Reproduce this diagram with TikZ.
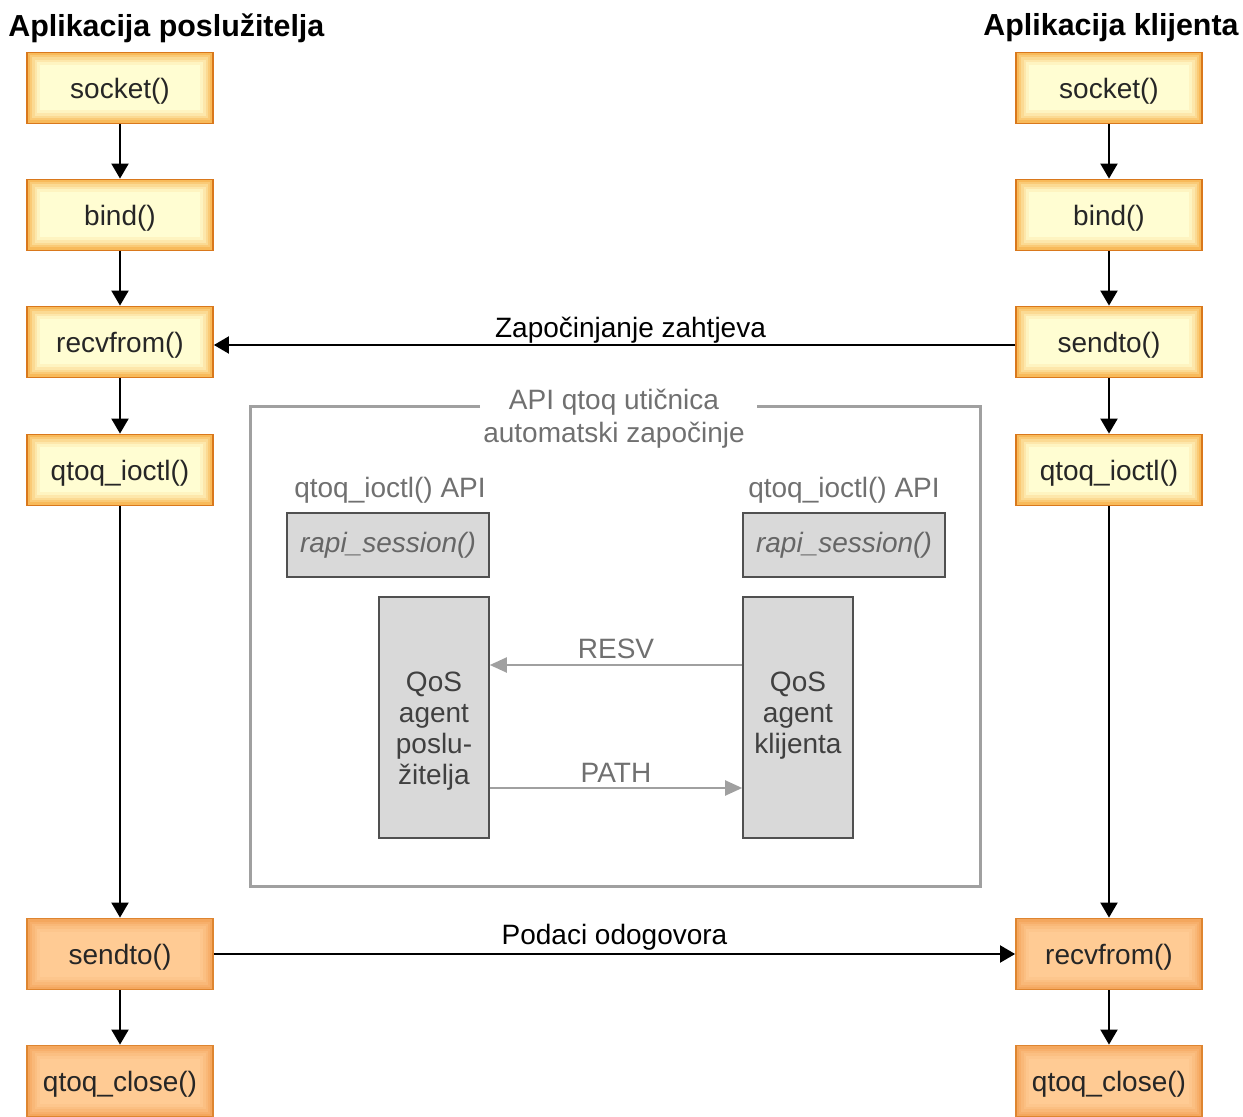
\documentclass[tikz,border=0pt]{standalone}
\usepackage{fontspec}
\setmainfont{Liberation Sans}
\usetikzlibrary{arrows.meta}
\definecolor{ybord}{HTML}{D9781C}
\definecolor{yfill}{HTML}{FFFDD2}
\definecolor{yglow}{HTML}{F7AE45}
\definecolor{ofill}{HTML}{FFCB94}
\definecolor{oglow}{HTML}{F2A055}
\definecolor{obord}{HTML}{DE8530}
\definecolor{gframe}{HTML}{A0A0A0}
\definecolor{gtext}{HTML}{707070}
\definecolor{gfill}{HTML}{D9D9D9}
\definecolor{gbord}{HTML}{505050}
\newcommand\glowlayers[2]{%
   \draw[#1!12!#2, line width=13pt] (path picture bounding box.south west) rectangle (path picture bounding box.north east);
   \draw[#1!28!#2, line width=10pt] (path picture bounding box.south west) rectangle (path picture bounding box.north east);
   \draw[#1!45!#2, line width=7.5pt] (path picture bounding box.south west) rectangle (path picture bounding box.north east);
   \draw[#1!65!#2, line width=5pt] (path picture bounding box.south west) rectangle (path picture bounding box.north east);
   \draw[#1!85!#2, line width=3pt] (path picture bounding box.south west) rectangle (path picture bounding box.north east);}
\tikzset{
 fnbox/.style={minimum width=93pt, minimum height=35.5pt, inner sep=0pt,
   text height=14.5pt, text depth=4pt,
   font=\fontsize{14}{16}\selectfont, text=black!85},
 ybox/.style={fnbox, fill=yfill, draw=ybord, line width=0.9pt, path picture={\glowlayers{yglow}{yfill}}},
 obox/.style={fnbox, fill=ofill, draw=obord, line width=0.9pt, path picture={\glowlayers{oglow}{ofill}}},
 titletxt/.style={inner sep=0pt, font=\fontsize{15.2}{18}\bfseries\selectfont},
 blab/.style={inner sep=0pt, font=\fontsize{14}{16.5}\selectfont, text=black},
 gtxt/.style={inner sep=0pt, font=\fontsize{14}{16.5}\selectfont, text=gtext, align=center},
 rbox/.style={fill=gfill, draw=gbord, line width=0.8pt, minimum width=101pt, minimum height=32pt,
   inner sep=0pt, text height=11.5pt, text depth=4pt, font=\fontsize{14}{16.5}\itshape\selectfont, text=black!60},
 abox/.style={fill=gfill, draw=gbord, line width=0.8pt, minimum width=55pt, minimum height=120.5pt, inner sep=0pt},
 atxt/.style={inner sep=0pt, font=\fontsize{14}{15.5}\selectfont, text=black!75, align=center},
 arr/.style={-{Triangle[length=7.5pt,width=8.5pt]}, line width=1pt, black},
 garr/.style={-{Triangle[length=8.5pt,width=7.5pt]}, line width=1pt, gframe},
 frame/.style={draw=gframe, line width=1.5pt},
}
\begin{document}
\begin{tikzpicture}[x=0.5pt, y=-0.5pt]
\useasboundingbox (0,0) rectangle (1243,1117);

% titles
\node[titletxt, anchor=west] (tl) at (8,28) {Aplikacija poslužitelja};
\node[titletxt, anchor=east] (tr) at (1239,28) {Aplikacija klijenta};

% left column
\node[ybox] (ls) at (120,88) {socket()};
\node[ybox] (lb) at (120,215) {bind()};
\node[ybox] (lr) at (120,342) {recvfrom()};
\node[ybox] (lq) at (120,470) {qtoq\_ioctl()};
\node[obox] (lsd) at (120,954) {sendto()};
\node[obox] (lc) at (120,1081) {qtoq\_close()};

% right column
\node[ybox] (rs) at (1109,88) {socket()};
\node[ybox] (rb) at (1109,215) {bind()};
\node[ybox] (rsd) at (1109,342) {sendto()};
\node[ybox] (rq) at (1109,470) {qtoq\_ioctl()};
\node[obox] (rr) at (1109,954) {recvfrom()};
\node[obox] (rc) at (1109,1081) {qtoq\_close()};

% vertical arrows
\draw[arr] (ls) -- (lb);
\draw[arr] (lb) -- (lr);
\draw[arr] (lr) -- (lq);
\draw[arr] (lq) -- (lsd);
\draw[arr] (lsd) -- (lc);
\draw[arr] (rs) -- (rb);
\draw[arr] (rb) -- (rsd);
\draw[arr] (rsd) -- (rq);
\draw[arr] (rq) -- (rr);
\draw[arr] (rr) -- (rc);

% horizontal arrows
\draw[arr] ([yshift=-1.5pt]rsd.west) -- node[blab, above=0.5pt, pos=0.48] (l1) {Započinjanje zahtjeva} ([yshift=-1.5pt]lr.east);
\draw[arr] (lsd.east) -- node[blab, above=1.5pt, pos=0.5] (l2) {Podaci odogovora} (rr.west);

% grey frame
\draw[frame] (480,407) -- (250,407) -- (250,886) -- (980,886) -- (980,407) -- (757,407);
\node[gtxt] (ft) at (614,419) {API qtoq utičnica\\automatski započinje};

\node[gtxt] (api1) at (390,490) {qtoq\_ioctl() API};
\node[gtxt] (api2) at (844,490) {qtoq\_ioctl() API};
\node[rbox] (rs1) at (388,545) {rapi\_session()};
\node[rbox] (rs2) at (844,545) {rapi\_session()};

\node[abox] (la) at (434,717.5) {};
\node[abox] (ra) at (798,717.5) {};
\node[atxt, anchor=north] (lat) at (434,672) {QoS\\agent\\poslu-\\žitelja};
\node[atxt, anchor=north] (rat) at (798,672) {QoS\\agent\\klijenta};

\draw[garr] ([yshift=26.25pt]ra.west) -- node[gtxt, above=2.5pt] (resv) {RESV} ([yshift=26.25pt]la.east);
\draw[garr] ([yshift=-35.25pt]la.east) -- node[gtxt, above=2.5pt] (path) {PATH} ([yshift=-35.25pt]ra.west);
\end{tikzpicture}
\end{document}
